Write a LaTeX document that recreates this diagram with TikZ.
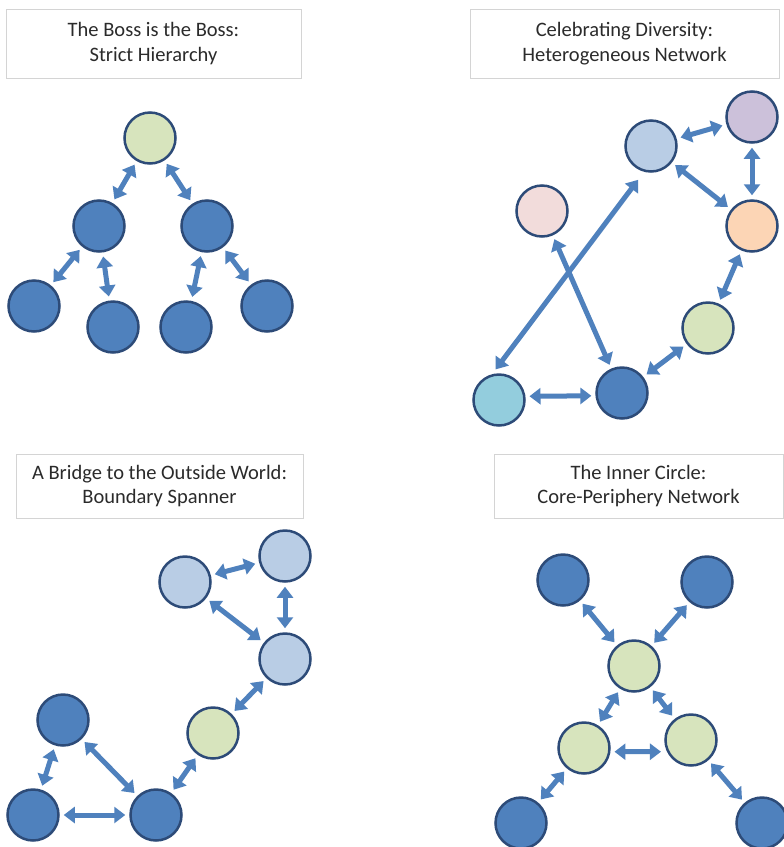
\documentclass[tikz,border=0pt]{standalone}
\usepackage{fontspec}
\setmainfont{Carlito}
\usetikzlibrary{arrows.meta}

\definecolor{ringline}{HTML}{2D4B78}
\definecolor{linkblue}{HTML}{4F81BD}
\definecolor{darkfill}{HTML}{4F81BD}
\definecolor{greenfill}{HTML}{D7E4BD}
\definecolor{paleblue}{HTML}{B9CDE5}
\definecolor{lilac}{HTML}{CCC1DA}
\definecolor{peach}{HTML}{FCD5B5}
\definecolor{blush}{HTML}{F2DCDB}
\definecolor{aqua}{HTML}{93CDDD}
\definecolor{boxline}{HTML}{D4D4D4}
\definecolor{titletext}{HTML}{2B2B2B}

\tikzset{
  member/.style={circle, draw=ringline, line width=2.5pt, minimum size=51pt, inner sep=0pt},
  dark/.style={member, fill=darkfill},
  core/.style={member, fill=greenfill},
  pale/.style={member, fill=paleblue},
  titlebox/.style={draw=boxline, line width=0.9pt, fill=white, align=center,
    text=titletext, font=\fontsize{20.5}{24.5}\selectfont, inner sep=0pt},
  link/.style={draw=linkblue, line width=5pt,
    {Triangle[length=11pt,width=16pt]}-{Triangle[length=11pt,width=16pt]},
    shorten <=4pt, shorten >=4pt}
}

\begin{document}
\begin{tikzpicture}[x=1pt,y=-1pt]
\useasboundingbox (0,0) rectangle (784,847);
\fill[white] (0,0) rectangle (784,847);

% ---------- Strict hierarchy ----------
\node[titlebox, minimum width=295pt, minimum height=69pt] (t1) at (153.5,43.5)
  {The Boss is the Boss:\\Strict Hierarchy};
\node[core] (h0) at (150,138) {};
\node[dark] (h1) at (99,226) {};
\node[dark] (h2) at (207,226) {};
\node[dark] (h3) at (34,306) {};
\node[dark] (h4) at (113,327) {};
\node[dark] (h5) at (186,327) {};
\node[dark] (h6) at (267,306) {};
\draw[link] (h0) -- (h1);
\draw[link] (h0) -- (h2);
\draw[link] (h1) -- (h3);
\draw[link] (h1) -- (h4);
\draw[link] (h2) -- (h5);
\draw[link] (h2) -- (h6);

% ---------- Heterogeneous network ----------
\node[titlebox, minimum width=309pt, minimum height=69pt] (t2) at (624.5,43.5)
  {Celebrating Diversity:\\Heterogeneous Network};
\node[member, fill=paleblue] (d1) at (651,146) {};
\node[member, fill=lilac] (d2) at (752,117) {};
\node[member, fill=peach] (d3) at (752,226) {};
\node[member, fill=blush] (d4) at (542,211) {};
\node[member, fill=greenfill] (d5) at (708,328) {};
\node[member, fill=darkfill] (d6) at (622,393) {};
\node[member, fill=aqua] (d7) at (499,400) {};
\draw[link] (d1) -- (d2);
\draw[link] (d2) -- (d3);
\draw[link] (d1) -- (d3);
\draw[link] (d3) -- (d5);
\draw[link] (d5) -- (d6);
\draw[link] (d7.8) -- (d6.186);
\draw[link] (d4) -- (d6);
\draw[link, shorten <=10pt, shorten >=6pt] (d1.255) -- (d7.105);

% ---------- Boundary spanner ----------
\node[titlebox, minimum width=287pt, minimum height=64pt] (t3) at (159.5,486)
  {A Bridge to the Outside World:\\Boundary Spanner};
\node[pale] (b1) at (185,582) {};
\node[pale] (b2) at (285,556) {};
\node[pale] (b3) at (285,659) {};
\node[core] (b4) at (213,733) {};
\node[dark] (b5) at (63,720) {};
\node[dark] (b6) at (33,815) {};
\node[dark] (b7) at (156,815) {};
\draw[link] (b1) -- (b2);
\draw[link] (b2) -- (b3);
\draw[link] (b1) -- (b3);
\draw[link] (b3) -- (b4);
\draw[link] (b4) -- (b7);
\draw[link] (b5) -- (b7);
\draw[link] (b5) -- (b6);
\draw[link] (b6) -- (b7);

% ---------- Core-periphery network ----------
\node[titlebox, minimum width=289pt, minimum height=64pt] (t4) at (638.5,486)
  {The Inner Circle:\\Core-Periphery Network};
\node[dark] (c1) at (563,580) {};
\node[dark] (c2) at (707,582) {};
\node[core] (c3) at (634,666) {};
\node[core] (c4) at (584,748) {};
\node[core] (c5) at (691,740) {};
\node[dark] (c6) at (521,823) {};
\node[dark] (c7) at (762,823) {};
\draw[link] (c1) -- (c3);
\draw[link] (c2) -- (c3);
\draw[link] (c3) -- (c4);
\draw[link] (c3) -- (c5);
\draw[link, shorten >=6pt] (c4.352) -- (c5.206);
\draw[link] (c4) -- (c6);
\draw[link] (c5) -- (c7);
\end{tikzpicture}
\end{document}
